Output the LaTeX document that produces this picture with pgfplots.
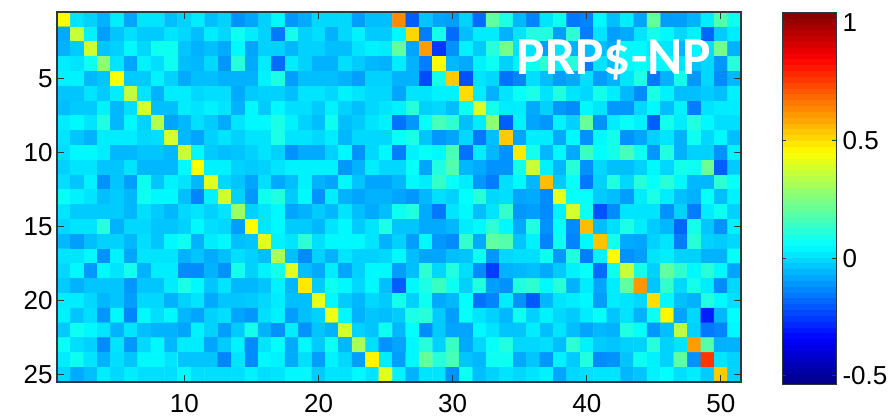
\documentclass[border=0pt]{standalone}
\usepackage{pgfplots}
\pgfplotsset{compat=1.18}
\usepackage{fontspec}
\setmainfont{Liberation Sans}
\newfontfamily\carl{Carlito}
\definecolor{axdark}{rgb}{0.17,0.22,0.24}
\begin{document}
\begin{tikzpicture}
\useasboundingbox (0,0) rectangle (895pt,418pt);
\begin{axis}[
  at={(57pt,36pt)}, anchor=south west,
  scale only axis, width=684pt, height=370pt,
  xmin=0.5, xmax=51.5, ymin=0.5, ymax=25.5,
  y dir=reverse,
  xtick={10,20,30,40,50}, ytick={5,10,15,20,25},
  tick align=inside, major tick length=7pt,
  axis line style={axdark,line width=1.1pt},
  tick style={axdark,line width=0.9pt},
  axis on top,
  /pgf/number format/assume math mode=true,
  tick label style={font=\fontsize{26}{26}\selectfont,black},
  xticklabel style={yshift=-9pt},
  yticklabel style={xshift=-1pt},
  colormap/jet,
  point meta min=-0.54, point meta max=1.047,
  colorbar sampled,
  colorbar style={
    samples=65,
    at={(parent axis.south east)}, anchor=south west,
    xshift=32.5pt, yshift=-3pt,
    scale only axis, width=54pt, height=373pt,
    xmin=0, xmax=1, ymin=-0.54, ymax=1.047,
    ytick={-0.5,0,0.5,1},
    yticklabels={-0.5,0,0.5,1},
    tick align=inside, major tick length=4pt,
    axis line style={axdark,line width=1pt},
    tick style={axdark,line width=0.8pt},
    /pgf/number format/assume math mode=true,
    yticklabel style={font=\fontsize{26}{26}\selectfont,black,xshift=3pt},
  },
]
\addplot[matrix plot*, mesh/cols=51, mesh/ordering=x varies, point meta={\thisrowno{0}/100-0.015}]
  table[header=false, x expr={mod(\coordindex,51)+1}, y expr={floor((\coordindex+0.5)/51)+1}] {
47
3
0
-5
4
-7
3
3
-3
0
4
-3
0
-10
-7
0
6
-9
-6
1
1
1
-8
-3
-3
65
-18
-2
-7
-8
0
-16
22
11
-4
-12
3
9
-14
-12
6
-3
4
-7
22
-8
-8
-5
4
20
9
-6
38
5
-8
-2
2
-1
-1
3
1
-3
4
1
9
4
0
-14
10
0
2
-5
1
5
-1
-1
6
53
-13
10
-16
-3
4
4
-5
3
12
12
-8
14
-13
3
-8
-6
3
10
6
1
5
-17
-1
4
-5
-1
39
-2
0
6
1
9
9
-2
-5
-3
-6
6
-7
0
0
-4
0
0
-3
-3
3
5
4
22
-7
62
-24
-10
5
-1
13
25
3
3
-8
3
-5
-3
-3
-6
6
6
3
3
-4
6
2
25
-5
4
3
9
29
3
-7
5
2
9
-3
-4
1
-9
13
-6
4
-16
4
0
-5
-5
2
-1
-4
-5
4
-5
-13
47
-4
-6
5
9
0
5
9
14
5
13
-13
3
-3
6
8
6
6
3
-2
1
-9
13
5
5
-4
-2
46
-1
-1
5
0
-6
-3
-3
-5
-5
-5
5
11
-8
-3
-3
-3
-5
-8
0
0
-5
-5
-21
10
55
-20
3
1
-15
-12
2
-3
-8
-6
2
-8
-5
3
12
-14
-5
10
-9
1
-11
-4
-2
-2
3
-1
4
37
3
-5
4
4
1
2
2
-6
-1
0
0
-3
3
3
1
5
3
1
1
-7
3
3
5
5
52
4
-5
3
8
11
3
12
3
1
10
4
-4
-11
11
5
-3
-3
-1
-3
5
-3
-1
-1
5
-4
2
40
-3
-3
4
3
5
3
-5
6
-1
6
2
2
-1
5
0
-3
1
3
5
13
0
1
-3
9
41
10
4
4
-6
0
-9
-11
6
3
-9
-9
1
6
-3
5
-13
3
4
4
4
6
3
12
-4
6
0
35
-7
-4
2
-1
-6
3
6
6
11
5
0
-3
9
-3
-1
3
5
-15
-9
8
18
14
-3
4
29
-18
5
-7
-9
5
0
23
-10
4
8
5
-18
10
4
12
6
2
2
3
-2
-5
4
4
4
1
2
40
-4
-7
0
3
0
3
3
11
3
3
1
4
-4
1
1
1
8
11
-2
-9
-7
1
-14
-3
55
-7
4
4
-6
6
-10
6
10
-10
-7
0
3
-5
9
1
6
-3
2
6
6
4
-4
-4
-2
-2
-4
38
6
-1
-3
-2
0
3
0
-10
-6
-6
0
6
-10
1
6
-13
5
8
6
18
-15
4
-4
-10
50
10
-4
6
-6
16
7
10
18
9
-9
12
-5
0
0
-10
5
0
3
3
-2
-2
3
-4
-4
-4
6
46
5
5
0
-1
0
3
5
5
5
5
-9
-5
4
1
1
8
-7
12
20
-4
-6
-10
-10
10
38
5
-4
13
-10
1
-3
-3
0
6
1
10
9
24
-18
-1
2
-2
5
-10
-2
-8
9
-2
5
3
-4
42
1
-2
-7
2
-6
-3
5
-5
-7
6
-2
-7
-7
-4
6
4
15
8
4
-9
-13
2
6
-4
57
-1
8
-14
0
12
1
13
8
13
6
-4
-4
14
8
8
5
3
-3
-1
-4
9
6
6
-3
-12
5
39
0
-9
9
12
-1
6
-10
4
-5
-7
-5
-5
-7
-9
-4
2
0
7
13
1
2
-7
-6
-11
43
8
8
-1
-3
-8
4
11
4
-3
-5
8
-3
5
3
-1
-1
-1
-1
-4
2
-1
-4
1
3
0
3
31
0
3
6
-7
-5
-1
-4
3
-3
-6
-3
9
12
-6
-14
3
6
-3
3
15
-9
-8
-11
5
40
9
-20
-11
3
3
3
-10
0
-13
4
9
0
1
3
3
13
-5
1
1
-2
-2
0
6
2
1
-8
47
3
6
-1
-1
-4
3
6
-1
3
11
-2
-2
-6
-6
-4
4
6
14
6
-6
12
-10
8
-11
57
-3
2
11
4
-1
-4
-17
10
-2
-10
5
-4
-8
-3
0
0
-4
2
-2
6
9
-5
4
6
-3
-2
42
5
3
14
2
6
6
6
3
-5
0
-8
6
-9
-11
15
-6
22
20
-2
5
-12
9
-12
6
56
10
-6
-7
0
3
-13
13
0
-1
1
3
3
6
-10
5
-7
3
3
3
-5
-2
-6
-3
2
0
-3
33
-3
-11
0
-5
3
0
0
1
6
-3
-7
-7
-3
-2
9
-9
1
2
2
9
-9
12
-13
5
47
-10
-8
3
4
0
0
-5
-5
8
1
6
-9
6
3
10
-5
4
4
-11
-11
-5
-10
10
0
5
10
42
-3
-6
4
-7
0
6
6
-8
-3
14
1
12
2
-11
-23
-5
-4
-3
-6
-1
5
8
-16
9
38
10
0
22
14
6
13
6
-7
-1
-5
-2
-2
-2
-9
-2
-2
4
11
6
-2
3
-4
-4
-2
5
-4
50
-1
9
6
1
6
-3
-18
6
11
16
9
0
12
-8
-10
12
14
6
13
-5
4
-7
4
22
63
-2
15
1
10
4
-11
1
4
4
1
-4
-2
-8
1
1
-5
0
3
-6
-2
-2
-1
1
4
-3
-3
43
6
-1
-4
1
-1
10
0
9
-6
-4
7
-15
-12
4
-10
-19
-4
3
4
6
-8
4
3
1
52
6
-3
-5
12
6
2
5
-2
2
-9
6
-12
6
2
6
-4
-7
0
2
-7
-9
2
5
-8
-3
0
44
6
-5
-2
-3
-1
11
13
-1
-8
8
3
0
-4
9
0
5
1
-1
4
8
-2
3
-5
9
48
-7
1
-28
-4
7
-1
9
6
3
-5
3
-3
-5
-5
-7
5
0
-8
-1
10
-5
-10
4
-10
-2
-5
40
0
-2
9
-4
7
-11
-1
-7
-7
6
3
-2
-2
4
-3
3
-3
-7
-4
-5
12
8
-9
-3
36
0
-14
-12
6
8
2
0
-11
3
-9
1
6
-4
4
4
-7
-1
5
-11
3
7
-6
6
-1
9
-4
33
2
-10
-7
6
13
0
16
-6
1
8
12
1
1
2
-3
14
5
-1
-2
0
0
13
0
3
62
20
-5
-5
4
9
3
-5
2
-2
6
6
3
-2
-2
-2
-12
3
-11
6
5
-6
2
-8
5
1
-8
48
4
-8
6
23
13
18
-2
-4
9
9
-6
-2
-9
5
-1
12
-11
-10
-2
9
5
0
22
-10
78
3
0
1
-6
-3
4
1
4
2
2
2
6
2
2
2
2
5
2
3
6
6
-1
3
3
6
3
42
5
-5
3
3
-10
9
-3
0
3
1
3
5
-7
1
2
3
3
-4
-2
5
7
2
4
-1
55
0
};
\node[anchor=base west, text=white, inner sep=0pt, font=\carl\bfseries\fontsize{53.5}{54}\selectfont]
  at (axis description cs:0.672,0.83) {PRP\$-NP};
\end{axis}
\end{tikzpicture}
\end{document}
